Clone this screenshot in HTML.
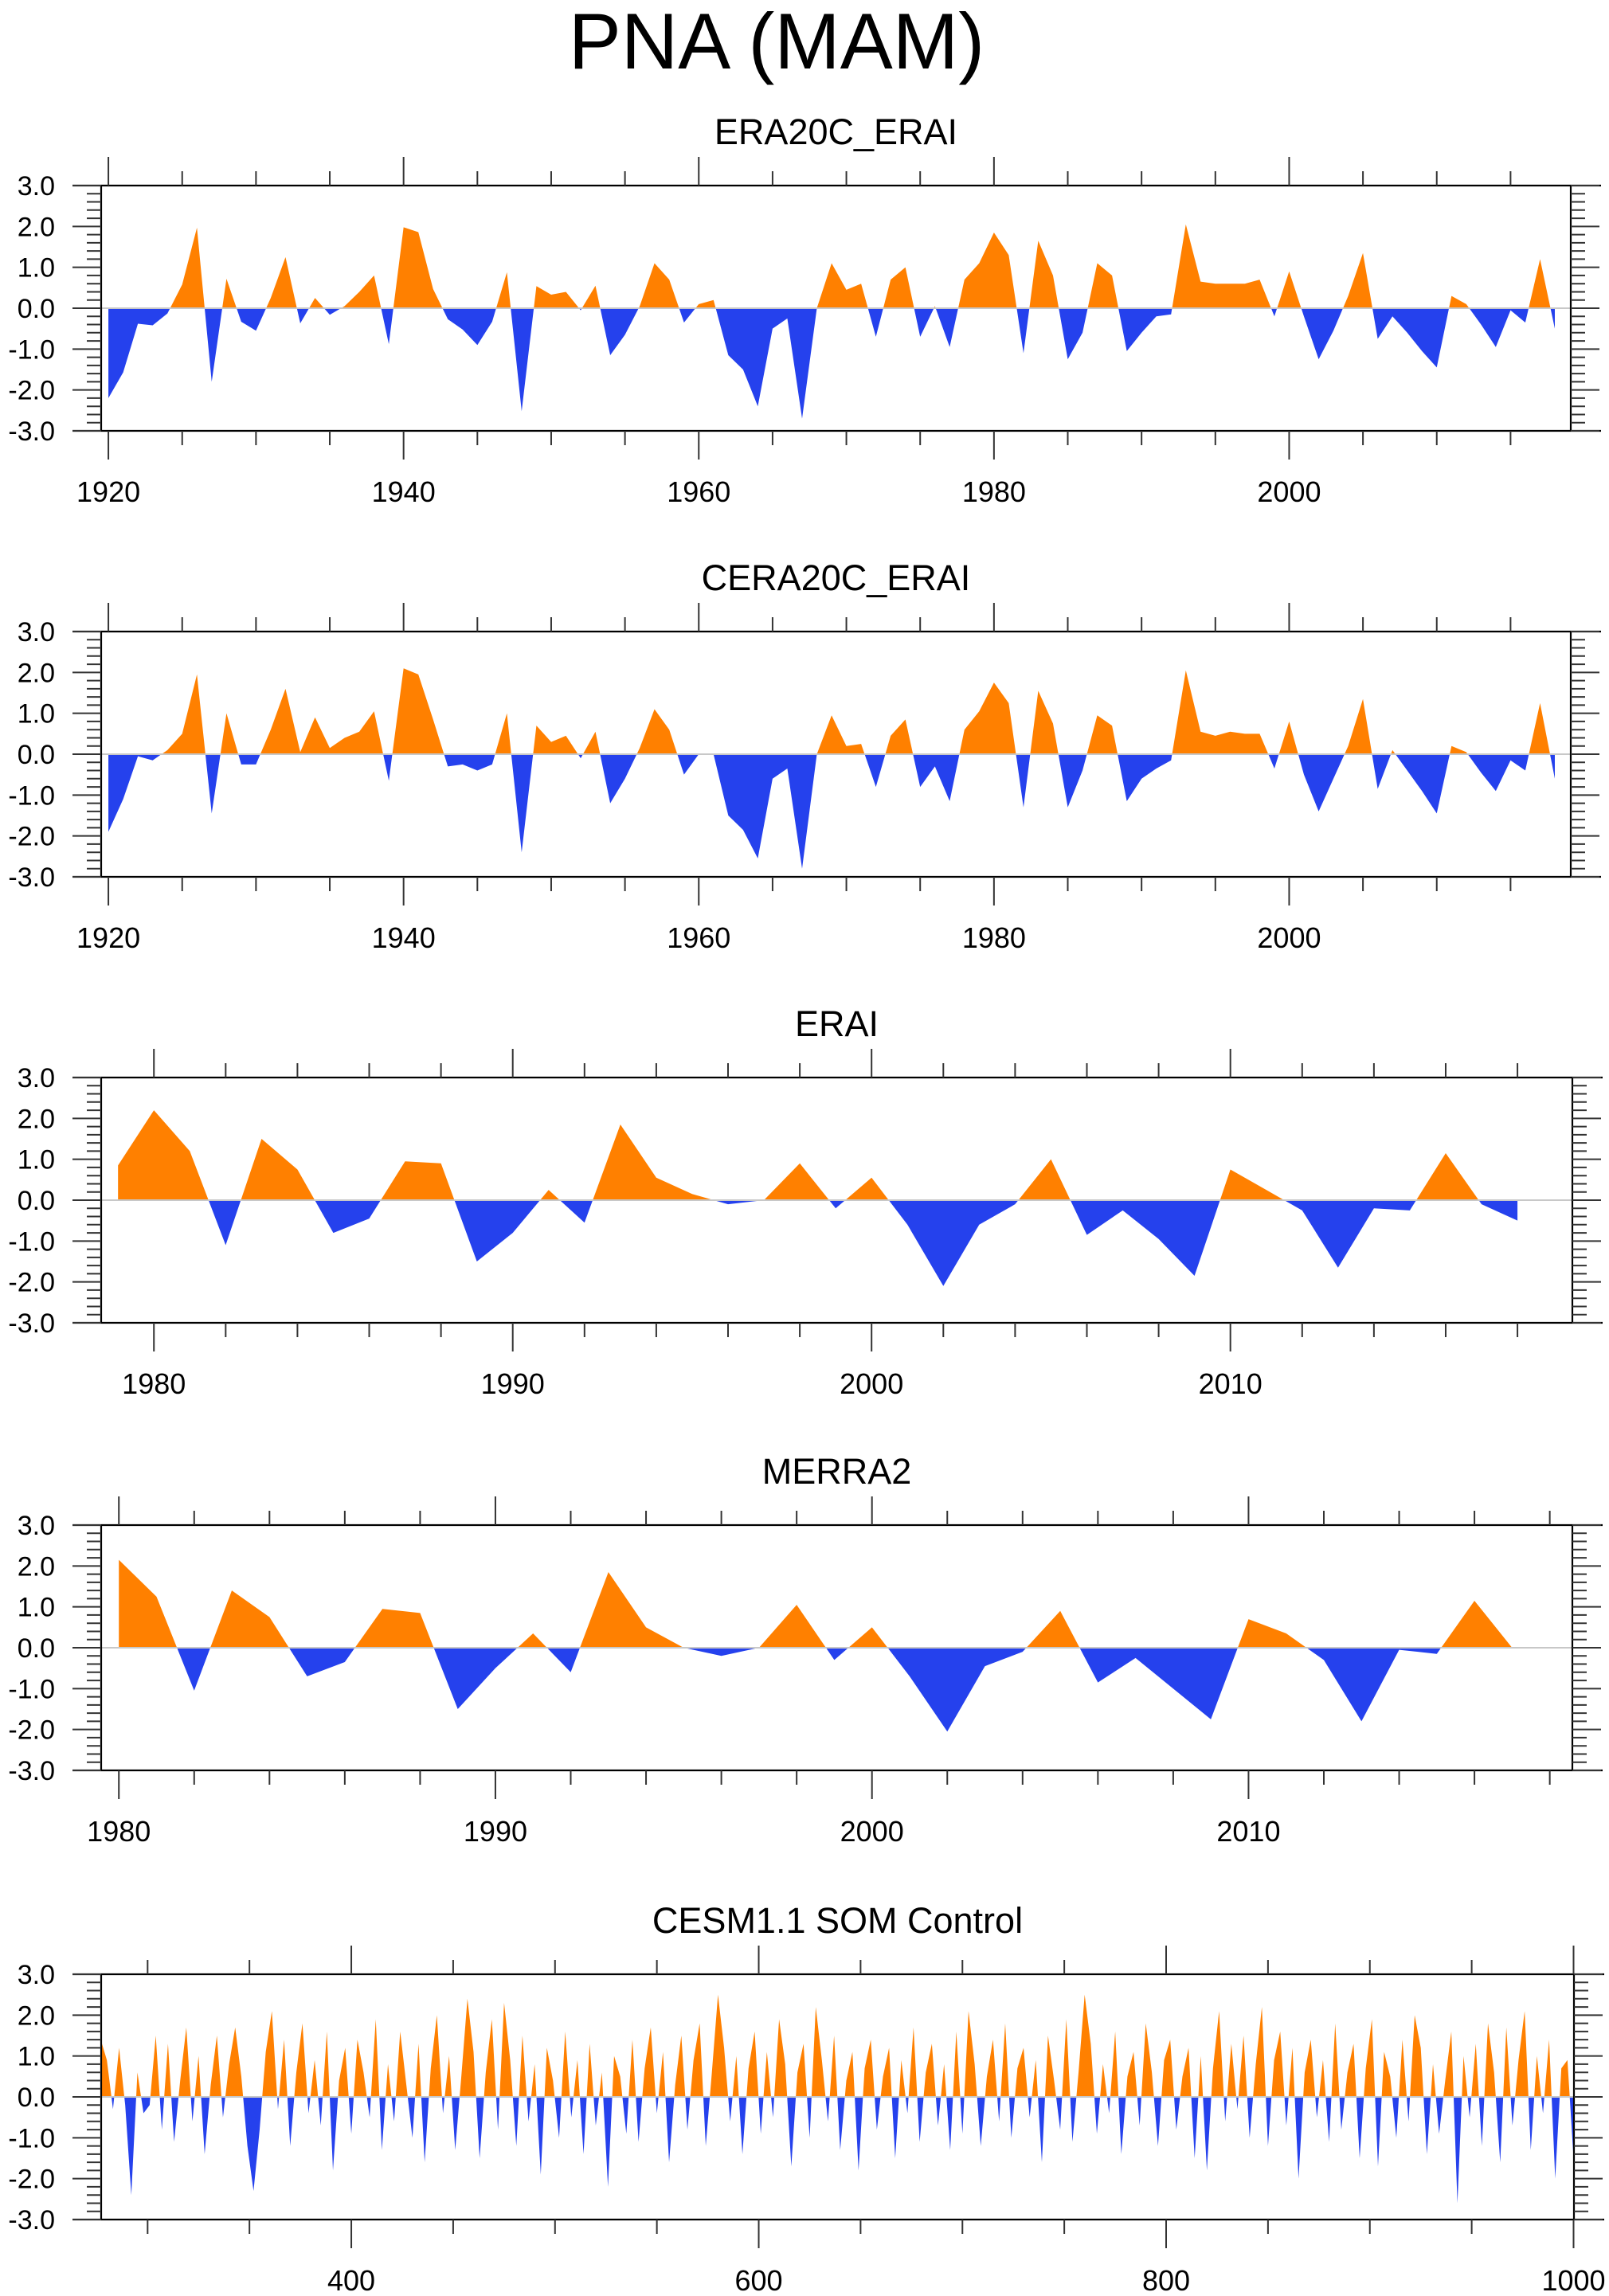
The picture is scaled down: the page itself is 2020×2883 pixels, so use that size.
<!DOCTYPE html>
<html><head><meta charset="utf-8"><title>PNA (MAM)</title>
<style>
html,body{margin:0;padding:0;background:#fff;}
svg{display:block;font-family:"Liberation Sans",Arial,sans-serif;}
</style></head>
<body>
<svg id="chart" width="2020" height="2883" viewBox="0 0 2020 2883" xmlns="http://www.w3.org/2000/svg">
<rect x="0" y="0" width="2020" height="2883" fill="#fff"/>
<text x="975" y="86" font-size="99" text-anchor="middle" fill="#000">PNA (MAM)</text>
</svg>
<script>
// ---- data ----
const era20cStart = 1920;
const era20cValues = [-2.2,-1.57,-0.38,-0.42,-0.13,0.58,1.97,-1.8,0.72,-0.33,-0.55,0.25,1.25,-0.37,0.25,-0.16,0.05,0.4,0.8,-0.88,1.98,1.86,0.47,-0.27,-0.52,-0.9,-0.33,0.88,-2.52,0.54,0.33,0.4,-0.05,0.55,-1.15,-0.65,0.05,1.1,0.7,-0.35,0.1,0.2,-1.15,-1.5,-2.4,-0.5,-0.25,-2.7,0,1.1,0.45,0.6,-0.7,0.7,1.0,-0.7,0.05,-0.95,0.7,1.1,1.85,1.3,-1.1,1.65,0.8,-1.25,-0.6,1.1,0.8,-1.05,-0.6,-0.2,-0.15,2.05,0.65,0.6,0.6,0.6,0.7,-0.2,0.9,-0.2,-1.25,-0.55,0.3,1.35,-0.75,-0.2,-0.6,-1.05,-1.45,0.3,0.1,-0.4,-0.95,-0.05,-0.35,1.2,-0.5];
const cera20cStart = 1920;
const cera20cValues = [-1.9,-1.1,-0.05,-0.15,0.1,0.5,1.95,-1.45,1.0,-0.25,-0.25,0.6,1.6,0.05,0.9,0.15,0.4,0.55,1.05,-0.65,2.1,1.95,0.85,-0.3,-0.25,-0.4,-0.25,1.0,-2.4,0.7,0.3,0.45,-0.1,0.55,-1.2,-0.6,0.15,1.1,0.6,-0.5,0.0,0.0,-1.5,-1.85,-2.55,-0.6,-0.35,-2.8,0.0,0.95,0.2,0.25,-0.8,0.45,0.85,-0.8,-0.3,-1.15,0.6,1.05,1.75,1.25,-1.3,1.55,0.75,-1.3,-0.4,0.95,0.7,-1.15,-0.6,-0.35,-0.15,2.05,0.55,0.45,0.55,0.5,0.5,-0.35,0.8,-0.5,-1.4,-0.6,0.2,1.35,-0.85,0.1,-0.4,-0.9,-1.45,0.2,0.05,-0.45,-0.9,-0.15,-0.4,1.25,-0.6];
const eraiStart = 1979;
const eraiValues = [0.85,2.2,1.2,-1.1,1.5,0.75,-0.8,-0.45,0.95,0.9,-1.5,-0.8,0.25,-0.55,1.85,0.55,0.15,-0.1,0.0,0.9,-0.2,0.55,-0.6,-2.1,-0.6,-0.1,1.0,-0.85,-0.25,-0.95,-1.85,0.75,0.25,-0.25,-1.65,-0.2,-0.25,1.15,-0.1,-0.5];
const merra2Start = 1980;
const merra2Values = [2.15,1.25,-1.05,1.4,0.75,-0.7,-0.35,0.95,0.85,-1.5,-0.5,0.35,-0.6,1.85,0.5,0.0,-0.2,0.0,1.05,-0.3,0.5,-0.7,-2.05,-0.45,-0.1,0.9,-0.85,-0.25,-1.0,-1.75,0.7,0.35,-0.3,-1.8,-0.05,-0.15,1.15,0.0];
const cesmStart = 277;
const cesmStep = 3;
const cesmValues = [
1.4,0.9,-0.3,1.2,-0.2,-2.4,0.6,-0.4,-0.2,1.5,-0.8,1.3,-1.1,0.4,1.7,-0.6,1.0,-1.4,0.3,1.5,
-0.5,0.8,1.7,0.5,-1.2,-2.3,-0.8,1.1,2.1,-0.3,1.4,-1.2,0.6,1.8,-0.4,0.9,-0.7,1.6,-1.8,0.4,
1.2,-0.9,1.4,0.6,-0.5,1.9,-1.3,0.8,-0.6,1.6,0.3,-1.0,1.3,-1.6,0.7,2.0,-0.4,1.0,-1.3,0.5,
2.4,1.1,-1.5,0.6,1.9,-0.8,2.3,0.9,-1.2,1.5,-0.6,0.8,-1.9,1.2,0.4,-1.0,1.6,-0.5,0.9,-1.4,
1.3,-0.7,0.6,-2.2,1.0,0.5,-0.9,1.4,-1.1,0.7,1.7,-0.4,1.1,-1.6,0.3,1.5,-0.8,0.9,1.8,-1.2,
0.6,2.5,1.2,-0.6,1.0,-1.4,0.7,1.6,-0.9,1.1,-0.5,1.9,0.8,-1.7,0.6,1.3,-1.0,2.2,0.9,-0.6,
1.5,-1.3,0.4,1.1,-1.8,0.7,1.4,-0.8,0.5,1.2,-1.5,0.9,-0.4,1.7,-1.1,0.6,1.3,-0.7,0.8,-1.3,
1.6,-0.9,2.1,0.8,-1.2,0.5,1.4,-0.6,1.8,-1.0,0.7,1.2,-0.5,0.9,-1.6,1.5,0.4,-0.8,1.9,-1.1,
0.6,2.5,1.3,-0.9,0.8,-0.4,1.6,-1.4,0.5,1.1,-0.7,1.8,0.6,-1.2,0.9,1.4,-0.8,0.5,1.2,-1.5,
1.0,-1.8,0.7,2.1,-0.6,1.3,-0.3,1.5,-1.0,0.8,2.2,-1.2,0.9,1.6,-0.7,1.2,-2.0,0.6,1.4,-0.5,
0.9,-1.1,1.8,-0.8,0.6,1.3,-1.5,0.7,1.9,-1.7,1.1,0.5,-1.0,1.4,-0.6,2.0,1.2,-1.4,0.8,-0.9,
0.4,1.6,-2.6,1.0,-0.5,1.3,-1.2,1.8,0.6,-1.6,1.7,-0.7,0.9,2.1,-1.3,1.0,-0.4,1.4,-2.0,0.7,
0.9,-1.5];
const yTickLabels = ["3.0","2.0","1.0","0.0","-1.0","-2.0","-3.0"];
const yTickValues = [3,2,1,0,-1,-2,-3];

// ---- drawing ----
const NS = "http://www.w3.org/2000/svg";
const svg = document.getElementById('chart');
function mk(tag, attrs, parent){
  const e = document.createElementNS(NS, tag);
  for (const k in attrs) e.setAttribute(k, attrs[k]);
  (parent||svg).appendChild(e);
  return e;
}
const ORANGE = "#ff8000", BLUE = "#2541ed";

function drawPanel(p, idx){
  const g = mk('g', {});
  
  
  const L = 127, R = p.right, T = p.top, B = p.top + 308;
  const xs = v => L + (v - p.dmin) / (p.dmax - p.dmin) * (R - L);
  const ys = v => T + (3 - v) / 6 * (B - T);
  const t = mk('text', {x:(L+R)/2, y:T-52, 'font-size':45, 'text-anchor':'middle', fill:'#000'}, g);
  t.textContent = p.title;
  
  
  const pts = p.values.map((v,i) => [xs(p.start + i*p.step), ys(v)]);
  const y0 = ys(0);
  let d = 'M' + pts[0][0] + ',' + y0;
  pts.forEach(q => d += ' L' + q[0] + ',' + q[1]);
  d += ' L' + pts[pts.length-1][0] + ',' + y0 + ' Z';
  const defs = mk('defs', {}, g);
  const cpA = mk('clipPath', {id:'ca'+idx}, defs);
  mk('rect', {x:L, y:T, width:R-L, height:y0-T}, cpA);
  const cpB = mk('clipPath', {id:'cb'+idx}, defs);
  mk('rect', {x:L, y:y0, width:R-L, height:B-y0}, cpB);
  const pos = mk('path', {d:d, fill:ORANGE, 'clip-path':'url(#ca'+idx+')'}, g);
  
  
  const neg = mk('path', {d:d, fill:BLUE, 'clip-path':'url(#cb'+idx+')'}, g);
  
  
  const zl = mk('line', {x1:L, x2:R, y1:y0, y2:y0, stroke:'#c8c8c8', 'stroke-width':2}, g);
  
  
  const fr = mk('g', {stroke:'#000', 'stroke-width':2.2, fill:'none'}, g);
  
  
  mk('line', {x1:L-36, x2:R+38, y1:T, y2:T}, fr);
  mk('line', {x1:L-36, x2:R+38, y1:B, y2:B}, fr);
  mk('line', {x1:L, x2:L, y1:T, y2:B}, fr);
  mk('line', {x1:R, x2:R, y1:T, y2:B}, fr);
  const tk = mk('g', {stroke:'#333', 'stroke-width':2}, g);
  for (let k = -30; k <= 30; k += 2){
    const v = k/10, y = ys(v), major = (k % 10 === 0);
    const len = major ? 36 : 18;
    mk('line', {x1:L-len, x2:L, y1:y, y2:y}, tk);
    mk('line', {x1:R, x2:R+len, y1:y, y2:y}, tk);
  }
  yTickValues.forEach((v,i) => {
    const lb = mk('text', {x:69, y:ys(v)+12, 'font-size':34, 'text-anchor':'end', fill:'#000'}, g);
    lb.textContent = yTickLabels[i];
    
    
  });
  const first = Math.ceil(p.dmin / p.minor) * p.minor;
  for (let v = first; v <= p.dmax; v += p.minor){
    const x = xs(v);
    const major = (Math.round(v) % p.major === 0);
    const len = major ? 36 : 18;
    mk('line', {x1:x, x2:x, y1:T-len, y2:T}, tk);
    mk('line', {x1:x, x2:x, y1:B, y2:B+len}, tk);
    if (major){
      const lb = mk('text', {x:x, y:B+89, 'font-size':36, 'text-anchor':'middle', fill:'#000'}, g);
      lb.textContent = String(Math.round(v));
      
      
    }
  }
}

const panels = [
  {name:'era20c-erai', title:'ERA20C_ERAI', top:233, right:1972, dmin:1919.51, dmax:2019.08, start:era20cStart, step:1, values:era20cValues, major:20, minor:5},
  {name:'cera20c-erai', title:'CERA20C_ERAI', top:793, right:1972, dmin:1919.51, dmax:2019.08, start:cera20cStart, step:1, values:cera20cValues, major:20, minor:5},
  {name:'erai', title:'ERAI', top:1353, right:1974, dmin:1978.53, dmax:2019.53, start:eraiStart, step:1, values:eraiValues, major:10, minor:2},
  {name:'merra2', title:'MERRA2', top:1915, right:1974, dmin:1979.53, dmax:2018.6, start:merra2Start, step:1, values:merra2Values, major:10, minor:2},
  {name:'cesm-som-control', title:'CESM1.1 SOM Control', top:2479, right:1976, dmin:277.2, dmax:1000.2, start:cesmStart, step:cesmStep, values:cesmValues, major:200, minor:50}
];
panels.forEach(drawPanel);
</script>
</body></html>
